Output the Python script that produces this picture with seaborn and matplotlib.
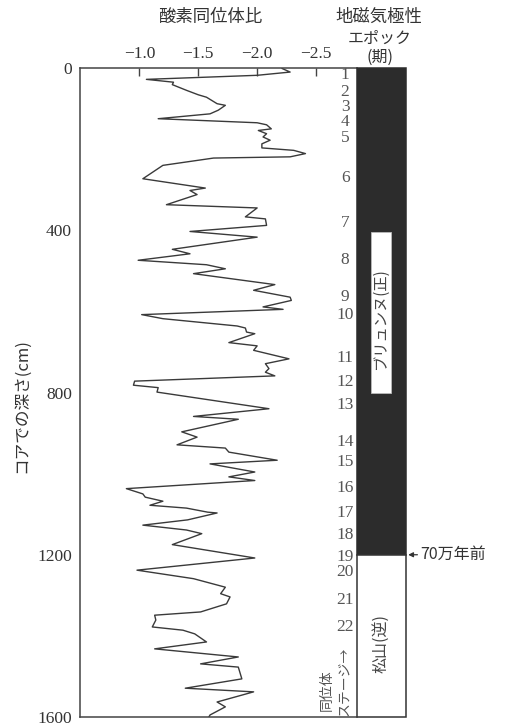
import numpy as np
import pandas as pd
import seaborn as sns
import matplotlib.pyplot as plt

# ── 1. Data ─────────────────────────────────────────────
depth_cm = [1, 10, 18, 28, 35, 41, 55, 66, 72, 88, 92, 104, 113, 125, 135, 140,
            150, 154, 162, 170, 178, 187, 197, 203, 211, 219, 222, 240, 273, 296,
            302, 312, 337, 345, 367, 372, 388, 403, 417, 447, 458, 474, 485, 495,
            507, 534, 548, 565, 573, 589, 595, 608, 618, 636, 641, 651, 655, 677,
            685, 696, 717, 729, 741, 750, 759, 772, 782, 788, 799, 840, 859, 866,
            897, 910, 929, 937, 947, 967, 976, 996, 1008, 1017, 1037, 1050, 1058,
            1068, 1078, 1085, 1095, 1097, 1114, 1127, 1139, 1148, 1175, 1208, 1238,
            1259, 1280, 1296, 1304, 1321, 1341, 1349, 1361, 1378, 1386, 1395, 1415,
            1432, 1452, 1469, 1477, 1506, 1529, 1538, 1563, 1575, 1595, 1600]
d18o = [-2.21, -2.28, -2.00, -1.06, -1.29, -1.28, -1.40, -1.50, -1.57, -1.66,
        -1.73, -1.67, -1.60, -1.16, -2.00, -2.08, -2.12, -2.01, -2.08, -2.05,
        -2.11, -2.04, -2.04, -2.31, -2.41, -2.28, -1.63, -1.20, -1.03, -1.56,
        -1.43, -1.49, -1.23, -2.00, -1.90, -2.07, -2.08, -1.43, -2.00, -1.28,
        -1.43, -0.99, -1.57, -1.73, -1.46, -2.15, -1.97, -2.28, -2.29, -2.05,
        -2.22, -1.02, -1.20, -1.83, -1.90, -1.91, -1.98, -1.76, -2.00, -1.97,
        -2.27, -2.07, -2.10, -2.07, -2.15, -0.96, -0.95, -1.16, -1.15, -2.10,
        -1.46, -1.84, -1.36, -1.49, -1.32, -1.73, -1.76, -2.17, -1.60, -1.98,
        -1.76, -1.98, -0.89, -1.03, -1.05, -1.20, -1.09, -1.40, -1.58, -1.66,
        -1.41, -1.03, -1.40, -1.53, -1.28, -1.98, -0.98, -1.46, -1.73, -1.69,
        -1.77, -1.74, -1.52, -1.13, -1.14, -1.11, -1.37, -1.47, -1.57, -1.13,
        -1.84, -1.52, -1.84, -1.87, -1.39, -1.97, -1.66, -1.73, -1.60, -1.59]

stage_no = list(range(1, 23))
stage_depth = [17, 59, 96, 133, 173, 271, 382, 473, 565, 609, 715, 774, 831,
               922, 971, 1036, 1097, 1151, 1206, 1242, 1312, 1378]

# magnetic polarity epochs
epoch_names = ['ブリュンヌ(正)', '松山(逆)']
epoch_top = [0, 1200]
epoch_bottom = [1200, 1600]
brunhes_label_span = [405, 800]

xticks = [-1.0, -1.5, -2.0, -2.5]
xtick_labels = ['−1.0', '−1.5', '−2.0', '−2.5']
yticks = [0, 400, 800, 1200, 1600]

# ── 2. Style ─────────────────────────────────────────────
sns.set_theme(style='white')
plt.rcParams['font.family'] = ['Liberation Serif', 'Noto Sans CJK JP', 'DejaVu Sans']
ink = '#333333'
plt.rcParams['text.color'] = ink
cjk = ['Noto Sans CJK JP', 'DejaVu Sans']

fig = plt.figure(figsize=(5.08, 7.24), dpi=100)
ax = fig.add_axes([0.1583, 0.00967, 0.5439, 0.8964])
ax2 = fig.add_axes([0.7022, 0.00967, 0.0965, 0.8964])

# ── 3. Oxygen isotope curve ─────────────────────────────
df = pd.DataFrame({'depth': depth_cm, 'd18o': d18o})
sns.lineplot(data=df, x='d18o', y='depth', sort=False, estimator=None,
             color='#3a3a3a', linewidth=1.0, ax=ax)
ax.set_xlim(-0.5, -2.845)
ax.set_ylim(1600, 0)
ax.xaxis.tick_top()
ax.set_xticks(xticks)
ax.set_xticklabels(xtick_labels, fontsize=12.5, color=ink)
ax.set_yticks(yticks)
ax.set_yticklabels([str(v) for v in yticks], fontsize=12.5, color=ink)
ax.tick_params(axis='x', direction='in', length=6, width=1, colors='#444', pad=4)
ax.tick_params(axis='y', direction='in', length=7, width=1, colors='#444', pad=6)
for lab in ax.get_xticklabels() + ax.get_yticklabels():
    lab.set_color(ink)
ax.set_xlabel('')
ax.set_ylabel('')
ax.spines['right'].set_visible(False)
for s in ['left', 'top', 'bottom']:
    ax.spines[s].set_color('#444')
    ax.spines[s].set_linewidth(1.1)

# stage numbers
for n, d in zip(stage_no, stage_depth):
    ax.text(0.958, d, str(n), transform=ax.get_yaxis_transform(),
            ha='center', va='center', fontsize=12.5, color='#555')
ax.text(0.893, 1585, '同位体', transform=ax.get_yaxis_transform(), rotation=90,
        ha='center', va='bottom', fontsize=10, color='#555', family=cjk)
ax.text(0.955, 1598, 'ステージ→', transform=ax.get_yaxis_transform(), rotation=90,
        ha='center', va='bottom', fontsize=10, color='#555', family=cjk)

# ── 4. Polarity column ──────────────────────────────────
mid = [(t + b) / 2 for t, b in zip(epoch_top, epoch_bottom)]
hgt = [b - t for t, b in zip(epoch_top, epoch_bottom)]
ax2.barh(mid, width=1, height=hgt, left=0, color=['#2c2c2c', 'white'],
         edgecolor=['#2c2c2c', '#333333'], linewidth=1.1, clip_on=False)
ax2.barh((brunhes_label_span[0] + brunhes_label_span[1]) / 2, width=0.41,
         height=brunhes_label_span[1] - brunhes_label_span[0], left=0.285,
         color='white', edgecolor='#bbbbbb', linewidth=0.6)
ax2.text(0.49, 618, epoch_names[0], rotation=90, ha='center', va='center',
         fontsize=11, color='#444', family=cjk)
ax2.text(0.5, 1418, epoch_names[1], rotation=90, ha='center', va='center',
         fontsize=11.5, color='#444', family=cjk)
ax2.set_xlim(0, 1)
ax2.set_ylim(1600, 0)
ax2.axis('off')
ax2.annotate('70万年前', xy=(1.05, 1200), xycoords=('axes fraction', 'data'),
             xytext=(9, 0), textcoords='offset points', ha='left', va='center',
             fontsize=11.5, color=ink, family=cjk, annotation_clip=False,
             arrowprops=dict(arrowstyle='-|>', color=ink, lw=0.9,
                             shrinkA=0, shrinkB=0, mutation_scale=7))

# ── 5. Headings ─────────────────────────────────────────
fig.text(0.413, 0.9765, '酸素同位体比', ha='center', va='center', fontsize=12.5, family=cjk)
fig.text(0.745, 0.9765, '地磁気極性', ha='center', va='center', fontsize=12.5, family=cjk)
fig.text(0.748, 0.9475, 'エポック', ha='center', va='center', fontsize=11.5, family=cjk)
fig.text(0.748, 0.921, '(期)', ha='center', va='center', fontsize=11.5, family=cjk)
fig.text(0.043, 0.44, 'コアでの深さ(cm)', rotation=90, ha='center', va='center',
         fontsize=12, family=cjk)

fig.savefig('out.png', dpi=100)
